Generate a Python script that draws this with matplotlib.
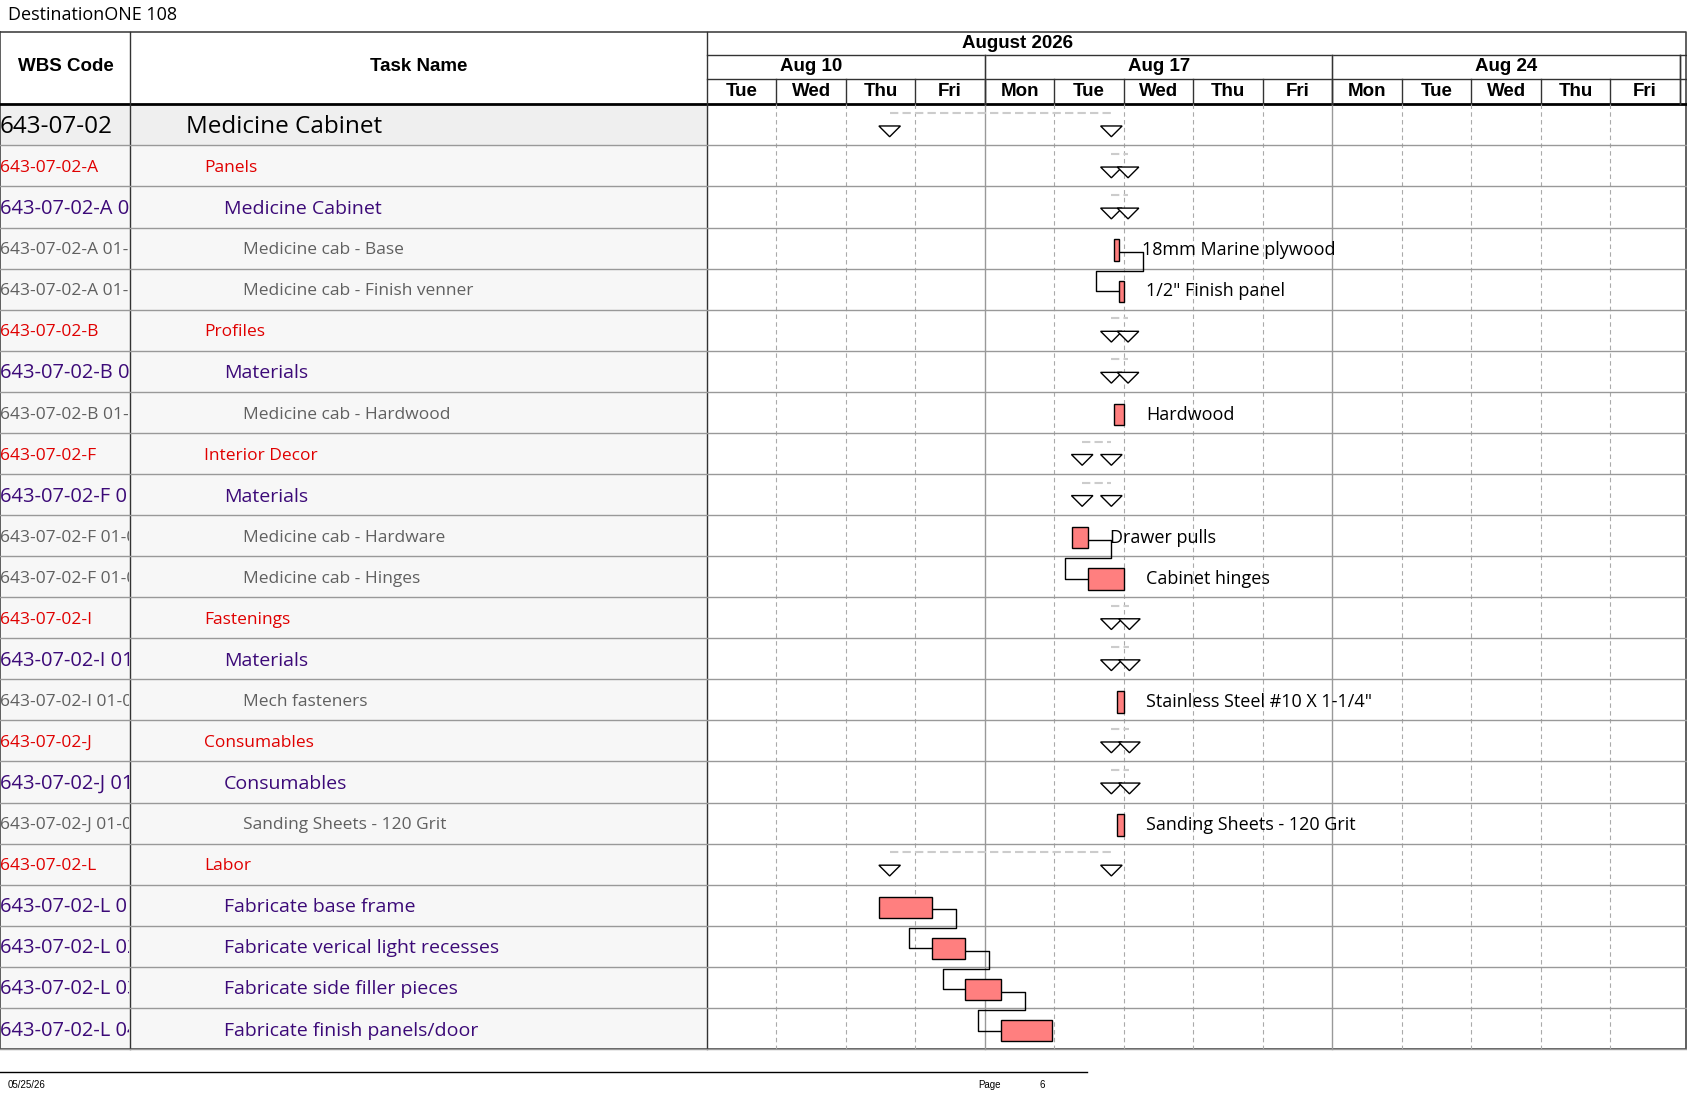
import matplotlib.pyplot as plt
from matplotlib.patches import Rectangle, Polygon

# --- data -------------------------------------------------------------
wbs = ["643-07-02", "643-07-02-A", "643-07-02-A 01", "643-07-02-A 01-01", "643-07-02-A 01-02",
       "643-07-02-B", "643-07-02-B 01", "643-07-02-B 01-01", "643-07-02-F", "643-07-02-F 01",
       "643-07-02-F 01-01", "643-07-02-F 01-02", "643-07-02-I", "643-07-02-I 01",
       "643-07-02-I 01-01", "643-07-02-J", "643-07-02-J 01", "643-07-02-J 01-01",
       "643-07-02-L", "643-07-02-L 01", "643-07-02-L 02", "643-07-02-L 03", "643-07-02-L 04"]
names = ["Medicine Cabinet", "Panels", "Medicine Cabinet", "Medicine cab - Base",
         "Medicine cab - Finish venner", "Profiles", "Materials", "Medicine cab - Hardwood",
         "Interior Decor", "Materials", "Medicine cab - Hardware", "Medicine cab - Hinges",
         "Fastenings", "Materials", "Mech fasteners", "Consumables", "Consumables",
         "Sanding Sheets - 120 Grit", "Labor", "Fabricate base frame",
         "Fabricate verical light recesses", "Fabricate side filler pieces",
         "Fabricate finish panels/door"]
levels = [0, 1, 2, 3, 3, 1, 2, 3, 1, 2, 3, 3, 1, 2, 3, 1, 2, 3, 1, 2, 2, 2, 2]
summary = [True, True, True, False, False, True, True, False, True, True, False, False,
           True, True, False, True, True, False, True, False, False, False, False]
# start / finish in working days from Tue Aug 11
start = [2.63, 5.82, 5.82, 5.86, 5.93, 5.82, 5.82, 5.86, 5.40, 5.40, 5.25, 5.48,
         5.82, 5.82, 5.90, 5.82, 5.82, 5.90, 2.63, 2.48, 3.24, 3.72, 4.23]
finish = [5.82, 6.06, 6.06, 5.93, 6.00, 6.06, 6.06, 6.00, 5.82, 5.82, 5.48, 6.00,
          6.08, 6.08, 6.00, 6.08, 6.08, 6.00, 5.82, 3.24, 3.72, 4.23, 4.97]
labels = {3: "18mm Marine plywood", 4: '1/2" Finish panel', 7: "Hardwood",
          10: "Drawer pulls", 11: "Cabinet hinges", 14: 'Stainless Steel #10 X 1-1/4"',
          17: "Sanding Sheets - 120 Grit"}
links = [(3, 4), (10, 11), (19, 20), (20, 21), (21, 22)]
days = ["Tue", "Wed", "Thu", "Fri", "Mon", "Tue", "Wed", "Thu", "Fri",
        "Mon", "Tue", "Wed", "Thu", "Fri"]
weeks = [("Aug 10", 1, 4), ("Aug 17", 6, 9), ("Aug 24", 11, 14)]

# --- layout (pixel space) ----------------------------------------------
W, H = 1568, 1019.6
X0, DW = 657, 64.6
TOP, RH = 97, 38.17
def dx(d):
    return X0 + d * DW

fig = plt.figure(figsize=(16.87, 10.97), dpi=100)
ax = fig.add_axes([0, 0, 1, 1])
ax.set_xlim(0, W)
ax.set_ylim(H, 0)
ax.axis("off")

fam = ["Open Sans", "DejaVu Sans"]
hdr = ["Liberation Sans", "DejaVu Sans"]
ax.text(7, 14, "DestinationONE 108", fontsize=13, va="center", family=fam)

# header
ax.plot([0, 1567, 1567, 0, 0], [30, 30, 975, 975, 30], color="#444", lw=1.2)
ax.plot([0, 1567], [97, 97], color="black", lw=2)
for x in (121, 657):
    ax.plot([x, x], [30, 975], color="#333", lw=1)
ax.text(61, 62, "WBS Code", ha="center", va="center", fontsize=13.5, weight="bold", family=hdr)
ax.text(389, 62, "Task Name", ha="center", va="center", fontsize=13.5, weight="bold", family=hdr)
ax.text(946, 40, "August 2026", ha="center", va="center", fontsize=13.5,
        weight="bold", family=hdr)
ax.plot([X0, 1567], [51, 51], color="#333", lw=1)
ax.plot([X0, 1567], [73, 73], color="#333", lw=1)
for lab, c, b in weeks:
    ax.text(dx(c + 0.5), 62, lab, ha="center", va="center", fontsize=13.5,
            weight="bold", family=hdr)
    ax.plot([dx(b), dx(b)], [51, 975 if b < 14 else 97], color="#999" if b < 14 else "#333",
            lw=1)
    ax.plot([dx(b), dx(b)], [51, 97], color="#333", lw=1)
for i, d in enumerate(days):
    ax.text(dx(i + 0.5), 85, d, ha="center", va="center", fontsize=13.5, weight="bold", family=hdr)
    if i > 0:
        ax.plot([dx(i), dx(i)], [73, 97], color="#333", lw=1)
        if i not in (4, 9):
            ax.plot([dx(i), dx(i)], [97, 975], color="#aaa", lw=0.8, ls=(0, (4, 3)))

clip = Rectangle((0, 97), 120, 900, transform=ax.transData)
colors = {0: "black", 1: "#e00000", 2: "#3c0a78", 3: "#606060"}
wsize = {0: 17.5, 1: 12.5, 2: 14.5, 3: 12.5}
nsize = {0: 17.5, 1: 12.5, 2: 14, 3: 12.5}
for i in range(len(wbs)):
    y0 = TOP + i * RH
    yc = y0 + RH / 2
    ty = yc + 2
    ax.add_patch(Rectangle((0, y0), 657, RH, color="#efefef" if i == 0 else "#f7f7f7", zorder=0))
    ax.plot([0, 1567], [y0 + RH, y0 + RH], color="#999", lw=1)
    t = ax.text(0, ty, wbs[i], va="center", fontsize=wsize[levels[i]],
                color=colors[levels[i]], family=fam, clip_on=True)
    t.set_clip_path(clip)
    ax.text(173 if levels[i] == 0 else 172 + 18 * levels[i], ty, names[i], va="center",
            fontsize=nsize[levels[i]], color=colors[levels[i]], family=fam)
    xs, xe = dx(start[i]), dx(finish[i])
    if summary[i]:
        ax.plot([xs, xe], [y0 + 8, y0 + 8], color="#ccc", lw=1.5, ls=(0, (4, 2)))
        for x in (xs, xe):
            ax.add_patch(Polygon([(x - 10, yc + 1), (x + 10, yc + 1), (x, yc + 11)],
                                 closed=True, fc="white", ec="black", lw=1, zorder=3))
    else:
        ax.add_patch(Rectangle((xs, yc - 8), xe - xs, 20, fc="#ff7f7f", ec="black",
                               lw=1, zorder=3))
        if i in labels:
            ax.text(xe + 21, ty, labels[i], va="center", fontsize=13, family=fam)

# dependency connectors
for a, b in links:
    ya = TOP + a * RH + RH / 2 + 4
    yb = TOP + b * RH + RH / 2 + 2
    xa, xb = dx(finish[a]), dx(start[b])
    xr = xa + 22
    xl = xb - 21
    ymid = TOP + b * RH + 2
    ax.plot([xa, xr, xr, xl, xl, xb], [ya, ya, ymid, ymid, yb, yb],
            color="black", lw=1, zorder=2)

# footer
ax.plot([0, 1010], [996, 996], color="black", lw=1)
ax.text(7, 1008, "05/25/26", fontsize=7, va="center", family=hdr)
ax.text(909, 1008, "Page", fontsize=7, va="center", family=hdr)
ax.text(966, 1008, "6", fontsize=7, va="center", family=hdr)

fig.savefig("out.png", dpi=100)
